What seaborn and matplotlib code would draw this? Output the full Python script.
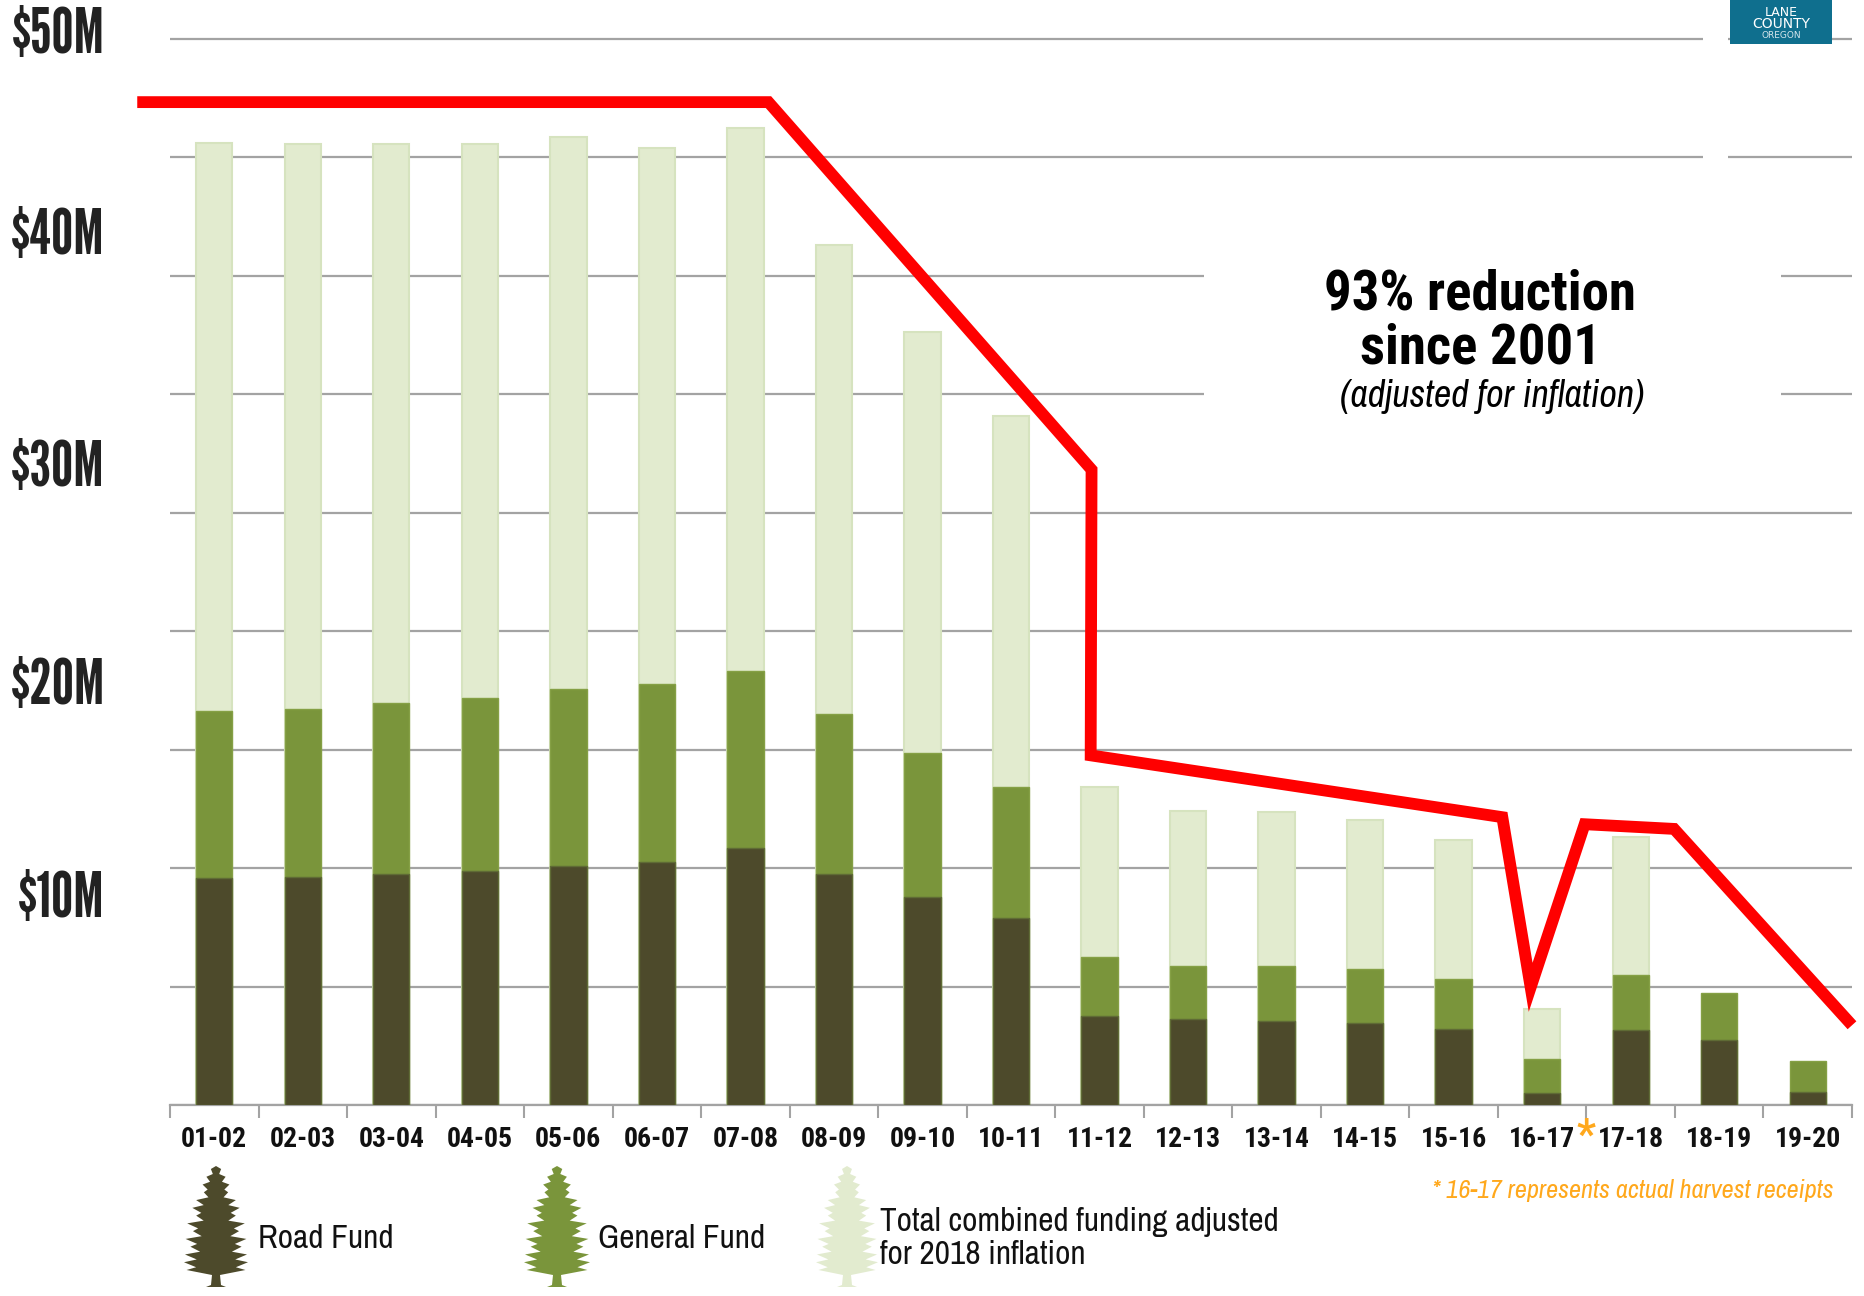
import numpy as np
import pandas as pd
import seaborn as sns
import matplotlib
matplotlib.use("Agg")
import matplotlib.pyplot as plt
from matplotlib.patches import Polygon, Rectangle
from matplotlib.transforms import Affine2D

# values, in $M
years = ["01-02", "02-03", "03-04", "04-05", "05-06", "06-07", "07-08", "08-09", "09-10", "10-11",
         "11-12", "12-13", "13-14", "14-15", "15-16", "16-17", "17-18", "18-19", "19-20"]
road_top = [10.66, 10.71, 10.83, 10.99, 11.22, 11.38, 12.05, 10.83, 9.77, 8.76,
            4.19, 4.02, 3.96, 3.85, 3.57, 0.56, 3.52, 3.07, 0.61]
general_top = [18.47, 18.58, 18.86, 19.08, 19.53, 19.75, 20.37, 18.36, 16.52, 14.90,
               6.92, 6.53, 6.53, 6.36, 5.92, 2.18, 6.08, 5.25, 2.06]
total_top = [45.14, 45.09, 45.09, 45.09, 45.42, 44.87, 45.81, 40.35, 36.27, 32.31,
             14.90, 13.78, 13.73, 13.39, 12.44, 4.52, 12.56, np.nan, np.nan]

# red trend line, x in bar slots
red_x = [-0.87, 6.26, 9.91, 9.90, 14.55, 14.87, 15.48, 16.49, 18.5]
red_y = [47.04, 47.04, 29.8, 16.4, 13.5, 5.52, 13.17, 12.95, 3.74]

y_labels = ["$10M", "$20M", "$30M", "$40M", "$50M"]
y_label_pos = [9.9, 19.9, 30.1, 41.0, 50.4]

ROAD = "#4d4a2b"
GENERAL = "#7a953b"
TOTAL = "#e2ebcf"
ORANGE = "#ffa81c"
W, H = 1865, 1296

# condensed faces first, plain ones as fallback
HEAD = ["League Gothic", "Liberation Sans", "DejaVu Sans"]
NOTE = ["Roboto Condensed", "Liberation Sans", "DejaVu Sans"]
BODY = ["Archivo Narrow", "Liberation Sans", "DejaVu Sans"]

sns.set_style("white")
plt.rcParams["font.family"] = BODY

df = pd.DataFrame({"year": years, "road": road_top, "general": general_top, "total": total_top})

fig = plt.figure(figsize=(W / 100, H / 100), dpi=100)
# y runs to 51 so the $50M line and label are inside the axes: 21.32 px per $M
ax = fig.add_axes([170 / W, 1 - 1105 / H, (1852 - 170) / W, (1105 - 17.7) / H])

# reference pixel coordinates, used for the hand placed pieces
px = Affine2D().scale(1 / W, -1 / H).translate(0, 1) + fig.transFigure

sns.barplot(data=df, x="year", y="total", color=TOTAL, saturation=1, width=0.41,
            edgecolor="#d6e3bf", linewidth=1.5, ax=ax, zorder=2)
sns.barplot(data=df, x="year", y="general", color=GENERAL, saturation=1, width=0.41,
            edgecolor="#85a045", linewidth=1, ax=ax, zorder=3)
sns.barplot(data=df, x="year", y="road", color=ROAD, saturation=1, width=0.41,
            edgecolor="#5f6b35", linewidth=1, ax=ax, zorder=4)
sns.lineplot(x=red_x, y=red_y, sort=False, estimator=None, color="#ff0000", linewidth=8.5,
             ax=ax, zorder=5, clip_on=False, solid_joinstyle="miter", solid_capstyle="butt")

ax.set_xlabel("")
ax.set_ylabel("")

# gridlines and slot ticks on major, labels on minor
ax.set_yticks(np.linspace(0, 50, 10))
ax.set_yticklabels([])
ax.set_yticks(y_label_pos, labels=y_labels, minor=True)
ax.set_xticks(np.arange(-0.5, 19, 1))
ax.set_xticklabels([])
ax.set_xticks(np.arange(19), labels=years, minor=True)
ax.set_xlim(-0.5, 18.5)
ax.set_ylim(0, 51)
ax.grid(axis="y", color="#a3a3a3", linewidth=1.6)
ax.grid(axis="x", visible=False)
ax.set_axisbelow(True)
ax.tick_params(axis="x", which="major", length=9, width=1.5, color="#a3a3a3", bottom=True)
ax.tick_params(axis="x", which="minor", length=0, pad=15, labelsize=20)
ax.tick_params(axis="y", which="major", length=0)
ax.tick_params(axis="y", which="minor", length=0, pad=47, labelsize=45)
for lab in ax.get_xticklabels(minor=True):
    lab.set_family(NOTE)
    lab.set_fontweight("bold")
    lab.set_color("#111111")
for lab in ax.get_yticklabels(minor=True):
    lab.set_family(HEAD)
    lab.set_color("#222222")
sns.despine(ax=ax, left=True, top=True, right=True)
ax.spines["bottom"].set_color("#a3a3a3")
ax.spines["bottom"].set_linewidth(1.6)

# white gaps in the gridlines behind the note and the logo
for x0, y0, x1, y1 in [(1703, 20, 1728, 175), (1204, 255, 1781, 415)]:
    ax.add_patch(Rectangle((x0, y0), x1 - x0, y1 - y0, transform=px, facecolor="white",
                           edgecolor="none", zorder=1, clip_on=False))

# logo
ax.add_patch(Rectangle((1730, 0), 102, 44, transform=px, facecolor="#0f6f8e",
                       edgecolor="none", zorder=6, clip_on=False))
ax.text(1781, 13, "LANE", transform=px, color="white", fontsize=9, family="DejaVu Sans",
        ha="center", va="center", zorder=7)
ax.text(1781, 24, "COUNTY", transform=px, color="white", fontsize=10, family="DejaVu Sans",
        ha="center", va="center", zorder=7)
ax.text(1781, 36, "OREGON", transform=px, color="#d5e6ec", fontsize=6.5, family="DejaVu Sans",
        ha="center", va="center", zorder=7)

# note
ax.text(1480, 294, "93% reduction", transform=px, fontsize=39.5, family=NOTE, fontweight="bold",
        ha="center", va="center", color="black")
ax.text(1480, 349, "since 2001", transform=px, fontsize=39.5, family=NOTE, fontweight="bold",
        ha="center", va="center", color="black")
ax.text(1492, 396, "(adjusted for inflation)", transform=px, fontsize=27.5, style="italic",
        ha="center", va="center", color="black")

# harvest footnote
ax.text(1586, 1136, "*", transform=px, fontsize=30, color=ORANGE, family=NOTE, fontweight="bold",
        ha="center", va="center")
ax.text(1833, 1190, "* 16-17 represents actual harvest receipts", transform=px, fontsize=19,
        color=ORANGE, style="italic", ha="right", va="center")

# how far each branch reaches, going down the legend tree
branch_reach = [0.16, 0.30, 0.42, 0.38, 0.62, 0.74, 0.62, 0.90, 0.72, 0.95, 0.80, 0.97, 1.0, 0.92]


def tree(cx, top, bottom, half, color):
    # jagged fir outline, scaled to the legend icon's size
    ys = np.linspace(top + 6, bottom - 14, len(branch_reach))
    right = [(cx, top)]
    for yy, reach in zip(ys, branch_reach):
        w = half * reach
        right.append((cx + w, yy - 3))
        right.append((cx + w * 0.62, yy + 2))
    right[-1] = (cx + 4, bottom - 12)
    right += [(cx + 5, bottom - 2), (cx + 10, bottom), (cx, bottom)]
    left = [(2 * cx - x, y) for x, y in reversed(right[1:-1])]
    ax.add_patch(Polygon(right + left, closed=True, transform=px, facecolor=color,
                         edgecolor="none", clip_on=False, zorder=6))


tree(216, 1166, 1287, 32, ROAD)
tree(557, 1166, 1287, 33, GENERAL)
tree(847, 1166, 1287, 31, TOTAL)

ax.text(258, 1239, "Road Fund", transform=px, fontsize=24, va="center", color="#111111")
ax.text(598, 1239, "General Fund", transform=px, fontsize=24, va="center", color="#111111")
ax.text(880, 1222, "Total combined funding adjusted", transform=px, fontsize=24, va="center", color="#111111")
ax.text(880, 1255, "for 2018 inflation", transform=px, fontsize=24, va="center", color="#111111")

fig.savefig("out.png", dpi=100)
